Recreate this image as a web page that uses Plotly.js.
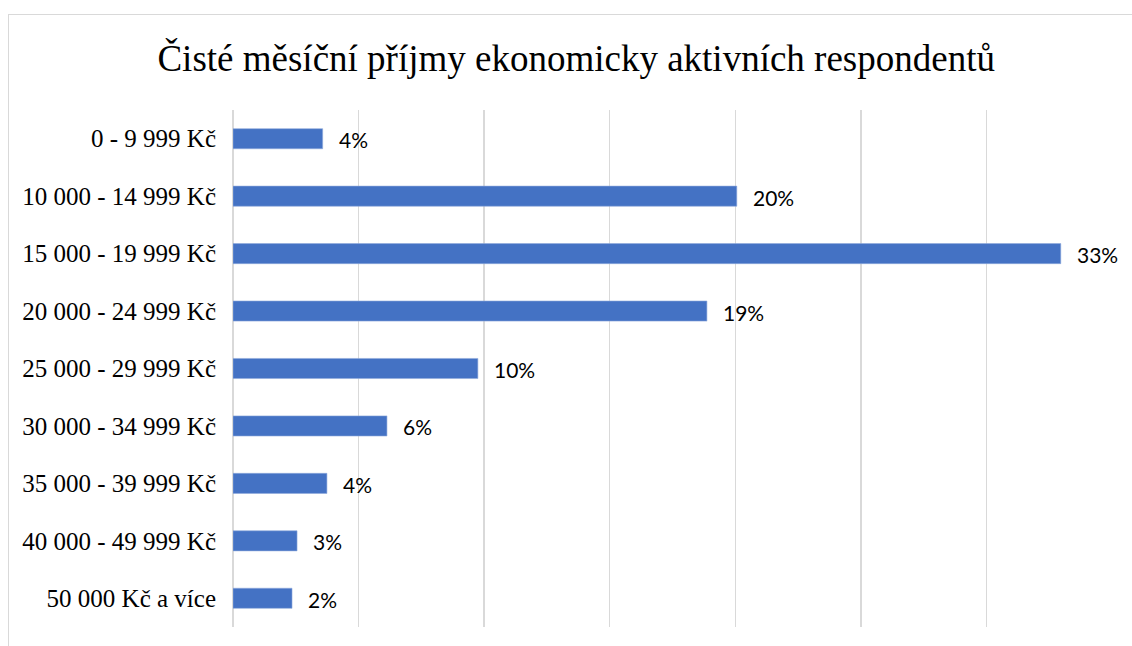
<!DOCTYPE html>
<html><head><meta charset="utf-8">
<script src="https://cdn.plot.ly/plotly-3.0.1.min.js"></script>
<style>
html,body{margin:0;padding:0;background:#fff;}
#frame{position:absolute;left:8px;top:14px;width:1200px;height:700px;border:1px solid #d9d9d9;}
#chart{position:absolute;left:0;top:0;width:1132px;height:646px;}
</style></head>
<body>
<div id="frame"></div>
<div id="chart"></div>
<script>
const categories = ["0 - 9 999 Kč","10 000 - 14 999 Kč","15 000 - 19 999 Kč","20 000 - 24 999 Kč","25 000 - 29 999 Kč","30 000 - 34 999 Kč","35 000 - 39 999 Kč","40 000 - 49 999 Kč","50 000 Kč a více"];
const values = [3.57, 20.06, 32.96, 18.87, 9.75, 6.13, 3.74, 2.55, 2.35];
const labels = values.map(v => Math.round(v) + "%");

const trace = {
  type: "bar", orientation: "h",
  x: values, y: categories,
  marker: {color: "#4472C4", line: {color: "#8faadc", width: 0.6}},
  hoverinfo: "none"
};
const annotations = values.map((v, i) => ({
  x: v, y: categories[i], xref: "x", yref: "y",
  text: labels[i], showarrow: false, xanchor: "left", yanchor: "middle",
  xshift: 14, yshift: -1, font: {family: "Lato, 'Open Sans', sans-serif", size: 21, color: "#000"}
}));
const layout = {
  width: 1132, height: 646,
  paper_bgcolor: "rgba(0,0,0,0)", plot_bgcolor: "rgba(0,0,0,0)",
  margin: {l: 233, r: 20, t: 110, b: 19},
  title: {text: "Čisté měsíční příjmy ekonomicky aktivních respondentů", x: 0.509, xanchor: "center", y: 0.91, yanchor: "middle",
          font: {family: "'Liberation Serif', 'Times New Roman', serif", size: 37, color: "#000"}},
  bargap: 0.65,
  showlegend: false,
  xaxis: {range: [0, 35], dtick: 5, showticklabels: false, showgrid: true, gridcolor: "#d9d9d9", gridwidth: 1.5,
          zeroline: true, zerolinecolor: "#d9d9d9", zerolinewidth: 1.5, showline: false, fixedrange: true},
  yaxis: {type: "category", autorange: "reversed", showgrid: false, zeroline: false, showline: false, ticks: "",
          ticklabelstandoff: 16,
          tickfont: {family: "'Liberation Serif', 'Times New Roman', serif", size: 25, color: "#000"}, fixedrange: true},
  annotations: annotations
};
Plotly.newPlot("chart", [trace], layout, {displayModeBar: false, staticPlot: true});
</script>
</body></html>
